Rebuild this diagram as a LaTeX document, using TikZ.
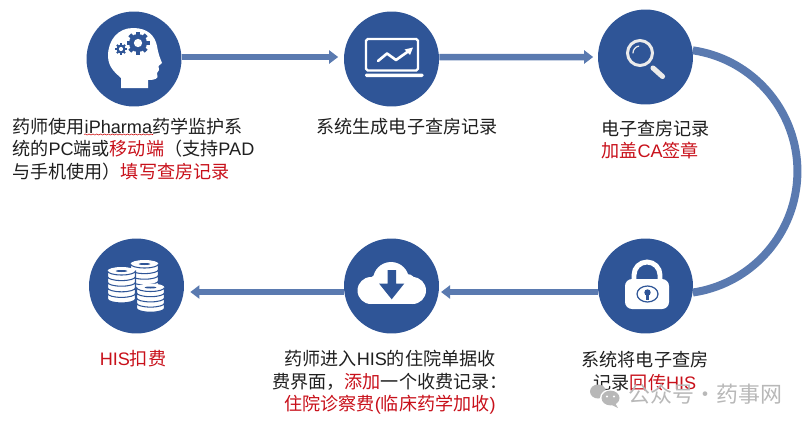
\documentclass[tikz,border=0pt]{standalone}
\usepackage{fontspec}
\usepackage{xcolor}
\setmainfont{Liberation Sans}
\newfontfamily\cjk{Noto Sans CJK SC}
\usetikzlibrary{arrows.meta,decorations.pathmorphing}
\definecolor{stepblue}{HTML}{2F5597}
\definecolor{lineblue}{HTML}{5A7AB0}
\definecolor{hlred}{HTML}{C8101A}
\definecolor{markgray}{HTML}{B8B8B8}
\newcommand{\zh}[1]{{\cjk #1}}
\newcommand{\hl}[1]{\textcolor{hlred}{#1}}
% one stack of coins, arguments: x, top y, number of layers, layer height
\newcommand{\coinstack}[4]{
  \fill[white,draw=stepblue,line width=.7] (#1-14,#2+3) -- (#1+14,#2+3) -- (#1+14,#2+3+#3*#4) arc[start angle=0,end angle=180,x radius=14,y radius=4] -- cycle;
  \fill[white] (#1,#2+3) ellipse[x radius=14,y radius=4];
  \fill[stepblue] (#1,#2+3) ellipse[x radius=6,y radius=1];
  \foreach \k in {1,...,#3}
    {\draw[stepblue,line width=.6] (#1-14,#2+3+\k*#4-#4) arc[start angle=180,end angle=0,x radius=14,y radius=4];}
}
% one gear, arguments: x, y, radius, teeth
\newcommand{\geardraw}[4]{
  \foreach \a in {1,...,#4}
    {\fill[stepblue,rotate around={360*\a/#4:(#1,#2)}] (#1-.17*#3,#2) rectangle (#1+.17*#3,#2-#3);}
  \fill[stepblue] (#1,#2) circle[radius=.78*#3];
  \fill[white] (#1,#2) circle[radius=.36*#3];
}

\begin{document}
\begin{tikzpicture}[x=0.02cm,y=-0.02cm]
  \tikzset{stepcircle/.style = {circle,fill=stepblue,minimum size=1.9cm,inner sep=0}}
  \tikzset{flowline/.style = {lineblue,line width=0.13cm}}
  \tikzset{flowarrow/.style = {flowline,-{Triangle[length=0.18cm,width=0.26cm]}}}
  \tikzset{steptext/.style = {inner sep=0,font=\fontsize{10.3}{12.9}\selectfont,text=black!88}}
  \useasboundingbox (0,0) rectangle (810,426);

  % steps
  \node[stepcircle] (c1) at (134,59) {};
  \node[stepcircle] (c2) at (391.5,59) {};
  \node[stepcircle] (c3) at (645.5,57) {};
  \node[stepcircle] (c4) at (645.5,286) {};
  \node[stepcircle] (c5) at (391.5,286) {};
  \node[stepcircle] (c6) at (136.5,286) {};

  % connectors
  \draw[flowarrow] ([yshift=0.04cm]c1.east) -- ([xshift=-0.11cm,yshift=0.04cm]c2.west);
  \draw[flowarrow] ([yshift=0.04cm]c2.east) -- ([xshift=-0.09cm]c3.west);
  \draw[lineblue,line width=0.16cm] (c3.8) arc[start angle=-81.6,end angle=81.6,radius=122.4];
  \draw[flowarrow] ([yshift=-0.12cm]c4.west) -- ([xshift=0.034cm,yshift=-0.12cm]c5.east);
  \draw[flowarrow] ([yshift=-0.12cm]c5.west) -- ([xshift=0.12cm,yshift=-0.12cm]c6.east);

  % head
  \fill[white] (121,88) -- (121,78) .. controls (117,74) and (108,68) .. (108,56)
    .. controls (108,40) and (118,28) .. (133,28) .. controls (148,28) and (155,36) .. (157,46)
    .. controls (158,53) and (160,58) .. (162,63) -- (158.5,66) -- (159,70) -- (157,73) -- (157.5,77)
    .. controls (156,80) and (151,80) .. (148,80) -- (148,88) -- cycle;
  \geardraw{138}{43}{11.5}{8}
  \geardraw{121}{49}{5.8}{8}

  % laptop
  \draw[white,line width=1.25,rounded corners=1] (366,39) rectangle (418,70.5);
  \fill[white,rounded corners=.8] (365,73.5) rectangle (423.5,77);
  \draw[white,line width=1.5,line cap=round,line join=round] (378,61) -- (387,53.5) -- (396,60) -- (408,51.5);
  \fill[white] (413,47.5) -- (410,55) -- (404.5,49.5) -- cycle;

  % magnifier
  \draw[white!92!black,line width=1.7] (640,53) circle[radius=12.5];
  \draw[white!92!black,line width=.7,line cap=round] (633,53) arc[start angle=180,end angle=260,radius=7];
  \draw[white!92!black,line width=2.9,line cap=round] (653,68) -- (662.5,76.5);

  % lock
  \draw[white,line width=2.8] (634,282) -- (634,275) arc[start angle=180,end angle=360,radius=13] -- (660,282);
  \fill[white,rounded corners=4] (625,279) rectangle (669,309);
  \draw[stepblue,line width=.7] (647.5,294) ellipse[x radius=10.5,y radius=8];
  \fill[stepblue] (647.5,292.5) circle[radius=3.2];
  \fill[stepblue] (646.3,293) rectangle (648.7,299.5);

  % cloud
  \fill[white] (391,280) circle[radius=18];
  \fill[white] (377,284) circle[radius=9];
  \fill[white] (407,283) circle[radius=9];
  \fill[white] (412.5,290.5) circle[radius=13.5];
  \fill[white] (371,290.5) circle[radius=13.5];
  \fill[white] (371,285) rectangle (412.5,304);
  \fill[stepblue] (387.5,270) -- (396,270) -- (396,283.5) -- (404.3,283.5) -- (391.7,299.3) -- (379,283.5) -- (387.5,283.5) -- cycle;

  % coins
  \coinstack{144.5}{261}{4}{5.6}
  \coinstack{121.5}{268}{5}{5.6}
  \coinstack{150.5}{284.5}{4}{5.2}

  % labels
  \node[steptext,anchor=west,align=left] (t1) at (12,149)
    {\zh{药师使用}iPharma\zh{药学监护系}\\
     \zh{统的}PC\zh{端或}\hl{\zh{移动端}}\zh{（支持}PAD\\
     \zh{与手机使用）}\hl{\zh{填写查房记录}}};
  \node[steptext] (t2) at (407,127) {\zh{系统生成电子查房记录}};
  \node[steptext,anchor=west,align=left] (t3) at (601,139.5)
    {\zh{电子查房记录}\\ \hl{\zh{加盖}CA\zh{签章}}};
  \node[steptext,align=center] (t4) at (645,371)
    {\zh{系统将电子查房}\\ \zh{记录}\hl{\zh{回传}HIS}};
  \node[steptext,align=center] (t5) at (390,382.5)
    {\zh{药师进入}HIS\zh{的住院单据收}\\
     \zh{费界面，}\hl{\zh{添加}}\zh{一个收费记录：}\\
     \hl{\zh{住院诊察费}(\zh{临床药学加收})}};
  \node[steptext,text=hlred] (t6) at (133,359) {HIS\zh{扣费}};

  % spell check mark
  \draw[red!80!black,line width=.3,decorate,decoration={snake,amplitude=.3pt,segment length=2.2pt}] (84,134.5) -- (153,134.5);

  % watermark
  \fill[markgray] (598,391.5) ellipse[x radius=8,y radius=7];
  \fill[white] (610.5,398) ellipse[x radius=10.5,y radius=8.8];
  \fill[markgray] (610.5,398) ellipse[x radius=9,y radius=7.4];
  \fill[markgray] (615,403) -- (618,408) -- (610,404) -- cycle;
  \foreach \x in {607,614} {\fill[white] (\x,396.5) circle[radius=1.1];}
  \node[inner sep=0,anchor=west,text=markgray,font=\fontsize{12.5}{14}\selectfont] (mark) at (628,394)
    {\zh{公众号·药事网}};
\end{tikzpicture}
\end{document}
